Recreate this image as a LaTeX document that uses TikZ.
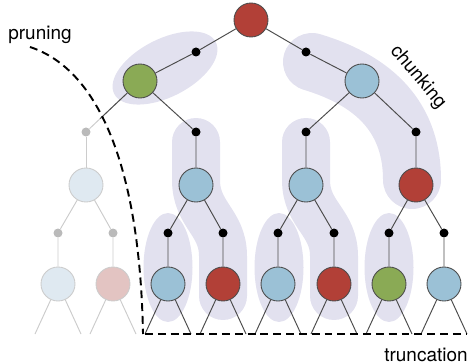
\documentclass[tikz,border=0pt]{standalone}
\usepackage{fontspec}
\setmainfont{TeX Gyre Heros}
\usetikzlibrary{positioning,calc,backgrounds}

\definecolor{nodered}{HTML}{B24037}
\definecolor{nodegreen}{HTML}{8AAA55}
\definecolor{nodeblue}{HTML}{9BC1D6}
\definecolor{chunkbg}{HTML}{E2E1EF}
\definecolor{fadeblue}{HTML}{DFE9F1}
\definecolor{fadered}{HTML}{E3C4C2}

\begin{document}
\begin{tikzpicture}[x=0.02cm, y=-0.02cm,
  state/.style={circle, draw=black!70, line width=0.5pt, fill=#1,
                minimum size=0.68cm, inner sep=0pt},
  faded/.style={circle, draw=black!20, line width=0.5pt, fill=#1,
                minimum size=0.68cm, inner sep=0pt},
  chance/.style={circle, fill=black, minimum size=0.18cm, inner sep=0pt},
  fadedot/.style={circle, fill=black!27, minimum size=0.18cm, inner sep=0pt},
  edge/.style={draw=black!70, line width=0.55pt},
  fadeedge/.style={draw=black!20, line width=0.55pt},
  chunk/.style={draw=chunkbg, line cap=round, line join=round, line width=#1},
  cut/.style={dash pattern=on 4.5pt off 2.8pt, line width=1.1pt},
  lbl/.style={font=\fontsize{10.8}{13}\selectfont, inner sep=0pt}]

  \useasboundingbox (0,0) rectangle (469,364);

  \fill[chunkbg] (165,68) circle [x radius=57, y radius=29, rotate=27];
  \draw[chunk=1.16cm] (312,62) .. controls (365,78) and (412,110) .. (412,180);
  \draw[chunk=0.96cm] (196,142) -- (196,180) .. controls (196,215) and (223,222) .. (223,256) -- (223,296);
  \draw[chunk=0.96cm] (306,142) -- (306,180) .. controls (306,215) and (334,222) .. (334,256) -- (334,296);
  \fill[chunkbg] (168,267.5) circle [x radius=24.5, y radius=54.5];
  \fill[chunkbg] (279,267.5) circle [x radius=24.5, y radius=54.5];
  \fill[chunkbg] (389,267.5) circle [x radius=24.5, y radius=54.5];

  \node[state=nodered]   (root) at (251,20)  {};
  \node[chance]          (c1)   at (196,52)  {};
  \node[chance]          (c2)   at (306,52)  {};
  \node[state=nodegreen] (s1)   at (140,81)  {};
  \node[state=nodeblue]  (s2)   at (362,81)  {};

  \node[fadedot]         (c11)  at (86,132)  {};
  \node[chance]          (c12)  at (196,132) {};
  \node[chance]          (c21)  at (306,132) {};
  \node[chance]          (c22)  at (416,132) {};
  \node[faded=fadeblue]  (s11)  at (86,185)  {};
  \node[state=nodeblue]  (s12)  at (196,185) {};
  \node[state=nodeblue]  (s21)  at (306,185) {};
  \node[state=nodered]   (s22)  at (416,185) {};

  \node[fadedot]         (d1)   at (58,233)  {};
  \node[fadedot]         (d2)   at (113,233) {};
  \node[chance]          (d3)   at (168,233) {};
  \node[chance]          (d4)   at (223,233) {};
  \node[chance]          (d5)   at (278,233) {};
  \node[chance]          (d6)   at (334,233) {};
  \node[chance]          (d7)   at (389,233) {};
  \node[chance]          (d8)   at (444,233) {};

  \node[faded=fadeblue]  (l1)   at (58,284)  {};
  \node[faded=fadered]   (l2)   at (113,284) {};
  \node[state=nodeblue]  (l3)   at (168,284) {};
  \node[state=nodered]   (l4)   at (223,284) {};
  \node[state=nodeblue]  (l5)   at (278,284) {};
  \node[state=nodered]   (l6)   at (334,284) {};
  \node[state=nodegreen] (l7)   at (389,284) {};
  \node[state=nodeblue]  (l8)   at (444,284) {};

  \draw[edge] (root) -- (c1) -- (s1);
  \draw[edge] (root) -- (c2) -- (s2);
  \draw[fadeedge] (s1) -- (c11);
  \draw[edge] (s1) -- ($(s1.center)!0.74!(c11.center)$);
  \draw[edge] (s1) -- (c12) -- (s12);
  \draw[edge] (s2) -- (c21) -- (s21);
  \draw[edge] (s2) -- (c22) -- (s22);
  \draw[fadeedge] (c11) -- (s11);
  \draw[fadeedge] (s11) -- (d1) -- (l1);
  \draw[fadeedge] (s11) -- (d2) -- (l2);
  \draw[edge] (s12) -- (d3) -- (l3);
  \draw[edge] (s12) -- (d4) -- (l4);
  \draw[edge] (s21) -- (d5) -- (l5);
  \draw[edge] (s21) -- (d6) -- (l6);
  \draw[edge] (s22) -- (d7) -- (l7);
  \draw[edge] (s22) -- (d8) -- (l8);

  \foreach \i in {1,2}
    \draw[fadeedge] (l\i) -- ++(-23,50) (l\i) -- ++(23,50);
  \foreach \i in {3,...,8}
    \draw[edge] (l\i) -- ++(-23,50) (l\i) -- ++(23,50);

  \draw[cut] (30,47) .. controls (100,70) and (140,170) .. (143,334);
  \draw[cut] (145,334) -- (467,334);

  \node[lbl] (prune) at (40,35) {pruning};
  \node[lbl, rotate=-50] (chunklbl) at (418,77) {chunking};
  \node[lbl] (trunc) at (426,355) {truncation};

\end{tikzpicture}
\end{document}
